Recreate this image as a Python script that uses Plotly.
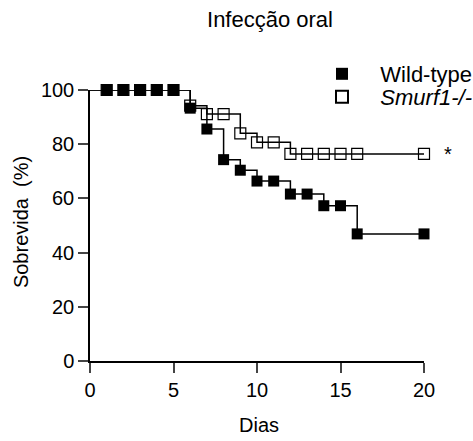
import plotly.graph_objects as go

days_wt = [0, 1, 2, 3, 4, 5, 6, 7, 8, 9, 10, 11, 12, 13, 14, 15, 16, 20]
surv_wt = [100, 100, 100, 100, 100, 100, 93.3, 85.6, 74.3, 70.4, 66.4, 66.4, 61.6, 61.6, 57.3, 57.3, 46.9, 46.9]
days_ko = [0, 1, 2, 3, 4, 5, 6, 7, 8, 9, 10, 11, 12, 13, 14, 15, 16, 20]
surv_ko = [100, 100, 100, 100, 100, 100, 94.2, 91.1, 91.1, 84.0, 80.7, 80.7, 76.4, 76.4, 76.4, 76.4, 76.4, 76.4]
x_ticks = [0, 5, 10, 15, 20]
y_ticks = [0, 20, 40, 60, 80, 100]

FONT = "Liberation Sans, Arial, sans-serif"
W, H = 473, 441
L, R, T, B = 90, 48.5, 90, 80
PW, PH = W - L - R, H - T - B


def px(xp):
    return (xp - L) / PW


def py(yp):
    return (H - B - yp) / PH


fig = go.Figure()

# step lines
fig.add_trace(go.Scatter(x=days_wt, y=surv_wt, mode="lines", line=dict(shape="hv", color="black", width=1.5),
                         showlegend=False, hoverinfo="skip", cliponaxis=False))
fig.add_trace(go.Scatter(x=days_ko, y=surv_ko, mode="lines", line=dict(shape="hv", color="black", width=1.5),
                         showlegend=False, hoverinfo="skip", cliponaxis=False))
# markers (from day 1)
fig.add_trace(go.Scatter(x=days_wt[1:], y=surv_wt[1:], mode="markers", name="\u00a0\u00a0\u00a0Wild-type",
                         marker=dict(symbol="square", size=11, color="black"), cliponaxis=False,
                         legend="legend"))
fig.add_trace(go.Scatter(x=days_ko[1:], y=surv_ko[1:], mode="markers", name="\u00a0\u00a0\u00a0<i>Smurf1-/-</i>",
                         marker=dict(symbol="square-open", size=11, color="black", line=dict(width=1.2)),
                         cliponaxis=False, legend="legend2"))

leg_common = dict(xanchor="left", yanchor="top", bgcolor="rgba(0,0,0,0)", font=dict(size=22),
                  itemsizing="constant", xref="container", yref="container")

fig.update_layout(
    width=W, height=H,
    margin=dict(l=L, r=R, t=T, b=B, autoexpand=False),
    paper_bgcolor="white", plot_bgcolor="white",
    font=dict(family=FONT, size=20, color="black"),
    title=dict(text="Infecção oral", x=270/W, xanchor="center", y=1-19/H, yanchor="middle",
               font=dict(size=22)),
    xaxis=dict(range=[0, 20], tickvals=x_ticks, ticks="outside", ticklen=10, tickwidth=1.5,
               showline=True, linewidth=1.5, linecolor="black", showgrid=False, zeroline=False,
               automargin=False),
    yaxis=dict(range=[0, 100], tickvals=y_ticks, ticks="outside", ticklen=10, tickwidth=1.5,
               showline=True, linewidth=1.5, linecolor="black", showgrid=False, zeroline=False,
               automargin=False),
    legend=dict(x=322/W, y=1-53/H, **leg_common),
    legend2=dict(x=322/W, y=1-76/H, **leg_common),
)

fig.add_annotation(x=px(455), y=surv_ko[-1], xref="paper", yref="y", text="*",
                   showarrow=False, font=dict(size=20))
# axis titles
fig.add_annotation(x=px(259), y=py(425), xref="paper", yref="paper", text="Dias", showarrow=False,
                   xanchor="center", yanchor="middle", font=dict(size=20))
fig.add_annotation(x=px(21), y=py(222), xref="paper", yref="paper", text="Sobrevida \u00a0(%)",
                   showarrow=False, textangle=-90, xanchor="center", yanchor="middle", font=dict(size=20))

fig.write_html("out.html")
